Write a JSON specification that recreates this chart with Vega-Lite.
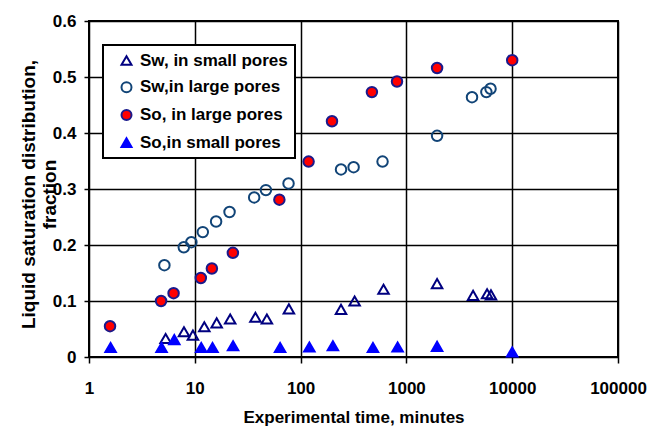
{
  "$schema": "https://vega.github.io/schema/vega-lite/v6.json",
  "width": 529,
  "height": 336,
  "autosize": {"type": "none"},
  "padding": {"left": 89, "top": 21, "right": 35, "bottom": 82},
  "background": "white",
  "config": {
    "font": "Liberation Sans",
    "view": {"stroke": "black", "strokeWidth": 2},
    "legend": {"strokeWidth": 2}
  },
  "datasets": {
    "pts": [
      {"series": "Sw, in small pores", "t": 5.3, "s": 0.033},
      {"series": "Sw, in small pores", "t": 7.9, "s": 0.045},
      {"series": "Sw, in small pores", "t": 9.6, "s": 0.039},
      {"series": "Sw, in small pores", "t": 12.3, "s": 0.054},
      {"series": "Sw, in small pores", "t": 16.1, "s": 0.061},
      {"series": "Sw, in small pores", "t": 21.6, "s": 0.068},
      {"series": "Sw, in small pores", "t": 37.4, "s": 0.071},
      {"series": "Sw, in small pores", "t": 48, "s": 0.068},
      {"series": "Sw, in small pores", "t": 77.5, "s": 0.086},
      {"series": "Sw, in small pores", "t": 241, "s": 0.085},
      {"series": "Sw, in small pores", "t": 324, "s": 0.1},
      {"series": "Sw, in small pores", "t": 608, "s": 0.121},
      {"series": "Sw, in small pores", "t": 1950, "s": 0.131},
      {"series": "Sw, in small pores", "t": 4270, "s": 0.11},
      {"series": "Sw, in small pores", "t": 5790, "s": 0.113},
      {"series": "Sw, in small pores", "t": 6300, "s": 0.111},
      {"series": "Sw,in large pores", "t": 5.16, "s": 0.164},
      {"series": "Sw,in large pores", "t": 7.87, "s": 0.196},
      {"series": "Sw,in large pores", "t": 9.28, "s": 0.205},
      {"series": "Sw,in large pores", "t": 11.9, "s": 0.223},
      {"series": "Sw,in large pores", "t": 15.9, "s": 0.242},
      {"series": "Sw,in large pores", "t": 21.3, "s": 0.259},
      {"series": "Sw,in large pores", "t": 36.4, "s": 0.285},
      {"series": "Sw,in large pores", "t": 47, "s": 0.298},
      {"series": "Sw,in large pores", "t": 76.9, "s": 0.31},
      {"series": "Sw,in large pores", "t": 241, "s": 0.335},
      {"series": "Sw,in large pores", "t": 317, "s": 0.339},
      {"series": "Sw,in large pores", "t": 595, "s": 0.349},
      {"series": "Sw,in large pores", "t": 1950, "s": 0.395},
      {"series": "Sw,in large pores", "t": 4170, "s": 0.464},
      {"series": "Sw,in large pores", "t": 5700, "s": 0.473},
      {"series": "Sw,in large pores", "t": 6240, "s": 0.479},
      {"series": "So, in large pores", "t": 1.58, "s": 0.055},
      {"series": "So, in large pores", "t": 4.8, "s": 0.1},
      {"series": "So, in large pores", "t": 6.3, "s": 0.114},
      {"series": "So, in large pores", "t": 11.4, "s": 0.141},
      {"series": "So, in large pores", "t": 14.5, "s": 0.158},
      {"series": "So, in large pores", "t": 22.9, "s": 0.186},
      {"series": "So, in large pores", "t": 63, "s": 0.281},
      {"series": "So, in large pores", "t": 119, "s": 0.349},
      {"series": "So, in large pores", "t": 198, "s": 0.421},
      {"series": "So, in large pores", "t": 472, "s": 0.473},
      {"series": "So, in large pores", "t": 815, "s": 0.492},
      {"series": "So, in large pores", "t": 1950, "s": 0.516},
      {"series": "So, in large pores", "t": 10000, "s": 0.53},
      {"series": "So,in small pores", "t": 1.6, "s": 0.017},
      {"series": "So,in small pores", "t": 4.85, "s": 0.017},
      {"series": "So,in small pores", "t": 6.4, "s": 0.031},
      {"series": "So,in small pores", "t": 11.5, "s": 0.017},
      {"series": "So,in small pores", "t": 14.7, "s": 0.017},
      {"series": "So,in small pores", "t": 23, "s": 0.02},
      {"series": "So,in small pores", "t": 64, "s": 0.017},
      {"series": "So,in small pores", "t": 121, "s": 0.018},
      {"series": "So,in small pores", "t": 202, "s": 0.02},
      {"series": "So,in small pores", "t": 483, "s": 0.017},
      {"series": "So,in small pores", "t": 826, "s": 0.018},
      {"series": "So,in small pores", "t": 1950, "s": 0.019},
      {"series": "So,in small pores", "t": 10000, "s": 0.009}
    ]
  },
  "data": {"name": "pts"},
  "mark": {"type": "point", "filled": true, "opacity": 1, "strokeWidth": 2, "size": 110},
  "encoding": {
    "x": {
      "field": "t",
      "type": "quantitative",
      "scale": {"type": "log", "domain": [1, 100000]},
      "axis": {
        "values": [1, 10, 100, 1000, 10000, 100000],
        "format": "d",
        "title": "Experimental time, minutes",
        "titleFontSize": 17,
        "titleFontWeight": "bold",
        "titleColor": "black",
        "titleBaseline": "alphabetic",
        "titleY": 65,
        "labelFontSize": 17,
        "labelFontWeight": "bold",
        "labelColor": "black",
        "labelBaseline": "alphabetic",
        "labelPadding": 30,
        "labelOverlap": false,
        "labelBound": false,
        "labelFlush": false,
        "tickColor": "black",
        "tickSize": 6,
        "tickWidth": 1.5,
        "domain": false,
        "grid": true,
        "gridColor": "black",
        "gridWidth": 1.5,
        "gridOpacity": 1
      }
    },
    "y": {
      "field": "s",
      "type": "quantitative",
      "scale": {"domain": [0, 0.6], "nice": false, "zero": true},
      "axis": {
        "values": [0, 0.1, 0.2, 0.3, 0.4, 0.5, 0.6],
        "format": ".1~f",
        "title": ["Liquid saturation distribution,", "fraction"],
        "titleFontSize": 19,
        "titleFontWeight": "bold",
        "titleColor": "black",
        "titleLineHeight": 21,
        "titleBaseline": "alphabetic",
        "titleX": -55,
        "titleY": 173,
        "labelFontSize": 17,
        "labelFontWeight": "bold",
        "labelColor": "black",
        "labelPadding": 8,
        "tickColor": "black",
        "tickSize": 5,
        "tickWidth": 1.5,
        "domain": false,
        "grid": true,
        "gridColor": "black",
        "gridWidth": 1.5,
        "gridOpacity": 1
      }
    },
    "shape": {
      "field": "series",
      "type": "nominal",
      "scale": {
        "domain": ["Sw, in small pores", "Sw,in large pores", "So, in large pores", "So,in small pores"],
        "range": ["triangle-up", "circle", "circle", "triangle-up"]
      },
      "legend": {
        "title": null,
        "orient": "none",
        "legendX": 14,
        "legendY": 24,
        "fillColor": "white",
        "strokeColor": "black",
        "padding": 7,
        "labelFontSize": 17,
        "labelFontWeight": "bold",
        "labelColor": "black",
        "labelLimit": 300,
        "labelOffset": 5,
        "symbolOffset": 8,
        "symbolSize": 100,
        "symbolStrokeWidth": 2,
        "symbolOpacity": 1,
        "rowPadding": 8.7
      }
    },
    "fill": {
      "field": "series",
      "type": "nominal",
      "scale": {
        "domain": ["Sw, in small pores", "Sw,in large pores", "So, in large pores", "So,in small pores"],
        "range": ["transparent", "transparent", "#ff0000", "#0000ff"]
      },
      "legend": {
        "title": null,
        "orient": "none",
        "legendX": 14,
        "legendY": 24,
        "fillColor": "white",
        "strokeColor": "black",
        "padding": 7,
        "labelFontSize": 17,
        "labelFontWeight": "bold",
        "labelColor": "black",
        "labelLimit": 300,
        "labelOffset": 5,
        "symbolOffset": 8,
        "symbolSize": 100,
        "symbolStrokeWidth": 2,
        "symbolOpacity": 1,
        "rowPadding": 8.7
      }
    },
    "stroke": {
      "field": "series",
      "type": "nominal",
      "scale": {
        "domain": ["Sw, in small pores", "Sw,in large pores", "So, in large pores", "So,in small pores"],
        "range": ["#000080", "#114477", "#1a1a8c", "#0000ff"]
      },
      "legend": {
        "title": null,
        "orient": "none",
        "legendX": 14,
        "legendY": 24,
        "fillColor": "white",
        "strokeColor": "black",
        "padding": 7,
        "labelFontSize": 17,
        "labelFontWeight": "bold",
        "labelColor": "black",
        "labelLimit": 300,
        "labelOffset": 5,
        "symbolOffset": 8,
        "symbolSize": 100,
        "symbolStrokeWidth": 2,
        "symbolOpacity": 1,
        "rowPadding": 8.7
      }
    }
  }
}
